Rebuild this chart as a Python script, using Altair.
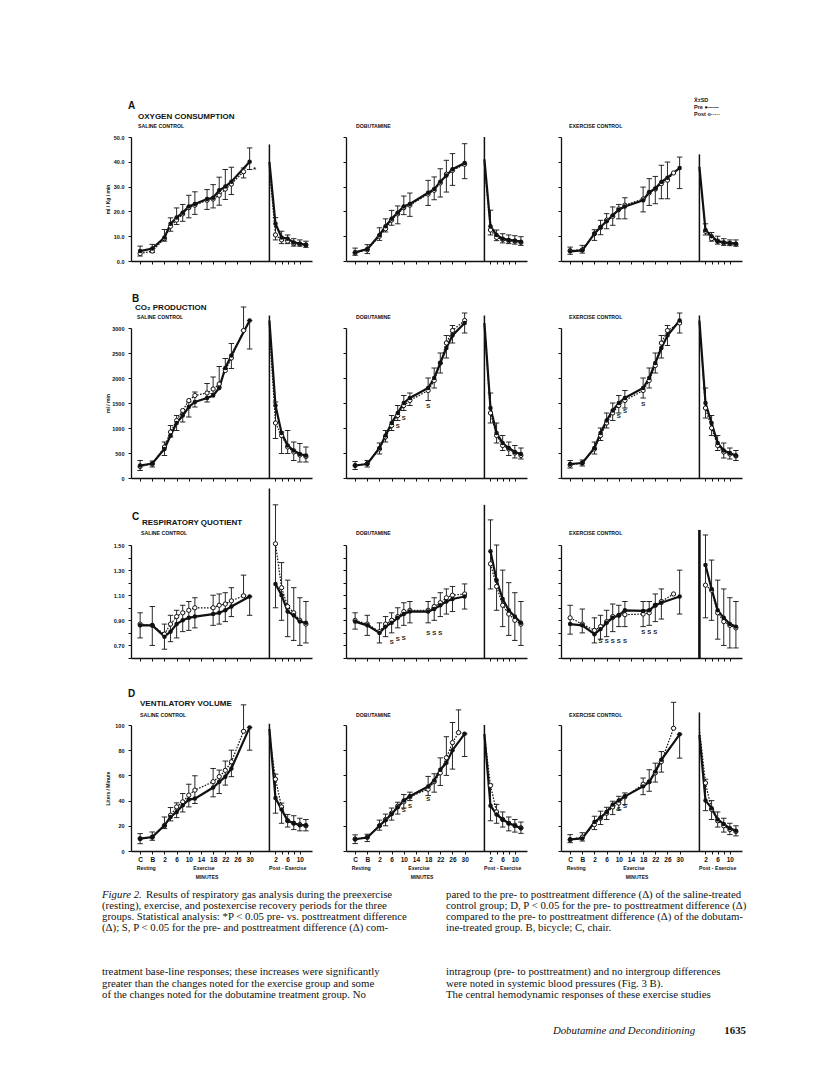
import altair as alt
import pandas as pd

N = None
FONT = "Liberation Sans"
SERIF = "Liberation Serif"

# ---- time grid -------------------------------------------------------------
EX_T = ["C", "B", "2", "4", "6", "8", "10", "12", "16", "18", "20", "22", "24", "26", "28", "30"]
EX_U = [0, 4, 8, 10, 12, 14, 16, 18, 22, 24, 26, 28, 30, 32, 34, 36]
REC_P = [0, 2, 4, 6, 8, 10, 12]
REC_START = 42.5
XTICKS = [0, 4, 8, 12, 16, 20, 24, 28, 32, 36, 44.5, 46.5, 48.5, 50.5, 52.5]
XLABEL_EXPR = ("datum.value==0?'C':datum.value==4?'B':datum.value<=36?format(datum.value-6,'d'):"
               "datum.value==44.5?'2':datum.value==48.5?'6':datum.value==52.5?'10':''")

# ---- A: oxygen consumption (ml/kg/min) -------------------------------------
A1_PRE = [4.0, 5.0, 9.5, 15.0, 17.5, 19.5, 22.0, 23.0, 25.0, 25.5, 28.5, 30.0, 32.0, N, N, 40.0]
A1_POST = [3.0, 4.0, 9.0, 14.0, 16.5, 19.0, 21.5, 22.5, 24.5, 25.0, 26.5, 29.0, 31.0, N, 36.0, N]
A1_LO = [2.0, 3.4, 8.0, 12.0, 14.7, 16.0, 17.4, 18.8, 20.8, 21.4, 22.5, 24.8, 26.8, N, 33.5, 36.9]
A1_HI = [6.0, 6.7, 12.7, 17.4, 21.4, 22.8, 26.5, 27.9, 28.8, 30.8, 33.8, 36.9, 37.8, N, 37.5, 45.6]
A1_RPRE = [40.0, 15.0, 9.5, 9.0, 7.5, 7.0, 6.5]
A1_RPOST = [37.0, 10.5, 8.5, 8.0, 7.0, 6.8, 6.5]
A1_RLO = [N, 8.5, 7.0, 7.0, 6.0, 6.0, 5.5]
A1_RHI = [N, 17.5, 12.0, 10.5, 9.0, 8.5, 8.0]

A2_PRE = [3.5, 4.8, 10.5, 14.0, 17.0, 19.5, 22.0, 23.0, N, 27.5, 29.0, 32.0, 34.5, 37.0, N, 39.5]
A2_POST = [3.3, 4.5, 10.0, 13.0, 16.5, 19.0, 21.5, 22.5, N, 27.0, 28.5, 31.5, 35.0, 36.5, N, 39.0]
A2_LO = [2.3, 3.0, 8.3, 11.7, 14.4, 15.0, 18.7, 18.0, N, 22.4, 24.7, 25.8, 27.8, 30.5, N, 33.2]
A2_HI = [5.2, 6.6, 13.4, 17.0, 20.4, 22.2, 26.2, 27.4, N, 32.5, 33.9, 37.2, 40.6, 43.3, N, 47.3]
A2_RPRE = [41.0, 14.0, 10.5, 9.0, 8.5, 8.2, 7.8]
A2_RPOST = [39.0, 12.5, 9.5, 8.7, 8.2, 8.0, 7.5]
A2_RLO = [N, 10.5, 8.2, 7.3, 7.0, 6.8, 6.3]
A2_RHI = [N, 20.5, 12.5, 11.0, 10.5, 10.2, 9.8]

A3_PRE = [3.9, 4.3, 11.0, 13.7, 16.0, 18.4, 20.7, 22.0, N, 24.5, 27.8, 29.2, 31.9, 33.6, N, 37.5]
A3_POST = [4.2, 4.5, 11.0, 13.5, 16.5, 18.0, 21.0, 22.5, N, 25.0, 27.5, 29.0, 31.2, 32.6, 35.5, N]
A3_LO = [2.7, 3.2, 8.3, 10.6, 13.0, 14.4, 17.0, 17.0, N, 19.8, 22.4, 23.1, 25.1, 25.1, N, 29.2]
A3_HI = [5.6, 6.3, 12.6, 16.4, 19.1, 21.8, 22.8, 25.5, N, 29.8, 33.2, 34.1, 38.6, 39.9, N, 41.9]
A3_RPRE = [38.0, 12.5, 10.0, 8.0, 7.5, 7.3, 7.0]
A3_RPOST = [37.0, 12.0, 9.0, 8.0, 7.3, 7.0, 6.8]
A3_RLO = [N, 10.5, 8.0, 6.8, 6.3, 6.2, 6.0]
A3_RHI = [N, 15.0, 11.5, 10.0, 9.0, 8.5, 8.5]

# ---- B: CO2 production (ml/min) ---------------------------------------------
B1_PRE = [250, 290, 580, 850, 1100, 1250, 1420, 1520, 1600, 1650, 1800, 2200, 2450, N, N, 3150]
B1_POST = [230, 280, 620, 920, 1150, 1350, 1550, 1650, 1700, 1780, 1880, 2150, 2400, N, 2950, N]
B1_LO = [150, 220, 450, 820, 950, 1120, 1220, 1420, 1520, 1690, 1820, 2190, 2190, N, 2950, 2580]
B1_HI = [350, 340, 720, 1050, 1250, 1300, 1520, 1720, 1890, 2020, 2230, 2390, 2690, N, 3420, 3150]
B1_RPRE = [3150, 1450, 900, 650, 550, 480, 450]
B1_RPOST = [2950, 1100, 850, 620, 520, 460, 430]
B1_RLO = [N, 790, 490, 490, 350, 320, 320]
B1_RHI = [N, 1520, 920, 950, 720, 690, 620]

B2_PRE = [250, 280, 600, 850, 1100, 1300, 1500, 1600, N, 1800, 2000, 2300, 2600, 2850, N, 3100]
B2_POST = [250, 290, 580, 820, 1050, 1250, 1450, 1550, N, 1750, 1950, 2300, 2700, 2950, N, 3150]
B2_LO = [170, 220, 480, 720, 950, 1150, 1350, 1450, N, 1550, 1800, 2100, 2400, 2700, N, 2900]
B2_HI = [330, 350, 700, 950, 1250, 1450, 1650, 1700, N, 2000, 2200, 2500, 2850, 3050, N, 3300]
B2_RPRE = [3100, 1400, 900, 700, 600, 520, 480]
B2_RPOST = [3050, 1300, 850, 650, 580, 500, 450]
B2_RLO = [N, 1100, 700, 550, 450, 400, 380]
B2_RHI = [N, 1700, 1100, 850, 720, 650, 600]

B3_PRE = [280, 300, 600, 900, 1150, 1350, 1500, 1600, N, 1800, 2000, 2300, 2600, 2850, N, 3150]
B3_POST = [260, 300, 580, 850, 1100, 1300, 1450, 1550, N, 1750, 1950, 2250, 2700, 2950, N, 3100]
B3_LO = [200, 240, 480, 750, 1000, 1150, 1300, 1400, N, 1600, 1800, 2100, 2400, 2650, N, 2900]
B3_HI = [350, 360, 720, 1000, 1300, 1500, 1650, 1750, N, 2000, 2200, 2500, 2850, 3050, N, 3300]
B3_RPRE = [3150, 1500, 1100, 700, 550, 500, 450]
B3_RPOST = [3100, 1400, 1000, 650, 520, 480, 440]
B3_RLO = [N, 1200, 850, 550, 400, 380, 350]
B3_RHI = [N, 1800, 1250, 850, 700, 600, 550]

# ---- C: respiratory quotient ------------------------------------------------
C1_PRE = [0.86, 0.86, 0.77, 0.81, 0.87, 0.90, 0.92, 0.93, N, 0.95, 0.96, 0.98, 1.01, N, N, 1.09]
C1_POST = [0.87, 0.86, 0.79, 0.87, 0.93, 0.96, 0.98, 1.00, N, 1.00, 1.02, 1.03, 1.055, N, 1.095, N]
C1_LO = [0.76, 0.70, 0.67, 0.73, 0.76, 0.81, 0.82, 0.84, N, 0.86, 0.87, 0.89, 0.93, N, 1.10, 0.94]
C1_HI = [0.96, 1.01, 0.87, 0.94, 0.98, 1.02, 1.05, 1.08, N, 1.10, 1.11, 1.12, 1.16, N, 1.26, 1.09]
C1_RPRE = [N, 1.19, 1.10, 0.97, 0.94, 0.89, 0.88]
C1_RPOST = [N, 1.51, 1.16, 1.01, 0.96, 0.90, 0.87]
C1_RLO = [N, 1.00, 0.90, 0.77, 0.74, 0.70, 0.72]
C1_RHI = [N, 1.82, 1.36, 1.22, 1.16, 1.08, 1.05]

C2_PRE = [0.89, 0.86, 0.80, 0.85, 0.88, 0.92, 0.95, 0.97, N, 0.97, 0.99, 1.02, 1.05, 1.07, N, 1.09]
C2_POST = [0.90, 0.87, 0.81, 0.87, 0.90, 0.93, 0.97, 0.98, N, 0.98, 1.01, 1.04, 1.08, 1.10, N, 1.11]
C2_LO = [0.83, 0.78, 0.72, 0.77, 0.80, 0.84, 0.86, 0.88, N, 0.88, 0.90, 0.93, 0.95, 0.97, N, 0.99]
C2_HI = [0.96, 0.94, 0.88, 0.93, 0.96, 1.00, 1.04, 1.05, N, 1.05, 1.08, 1.12, 1.15, 1.17, N, 1.19]
C2_RPRE = [N, 1.45, 1.22, 1.07, 0.98, 0.93, 0.88]
C2_RPOST = [N, 1.35, 1.17, 1.02, 0.95, 0.90, 0.87]
C2_RLO = [N, 1.15, 0.98, 0.85, 0.78, 0.74, 0.70]
C2_RHI = [N, 1.70, 1.50, 1.30, 1.20, 1.12, 1.05]

C3_PRE = [0.87, 0.86, 0.79, 0.83, 0.88, 0.92, 0.94, 0.98, N, 0.975, 0.98, 1.02, 1.04, N, N, 1.09]
C3_POST = [0.92, 0.87, 0.82, 0.85, 0.89, 0.93, 0.94, 0.945, N, 0.95, 0.96, 1.02, 1.05, N, 1.11, N]
C3_LO = [0.79, 0.80, 0.72, 0.75, 0.77, 0.81, 0.85, 0.85, N, 0.85, 0.86, 0.89, 0.91, N, N, 0.95]
C3_HI = [1.02, 0.99, 0.92, 0.94, 0.98, 1.03, 1.02, 1.05, N, 1.05, 1.05, 1.11, 1.15, N, N, 1.30]
C3_RPRE = [N, 1.34, 1.15, 0.98, 0.92, 0.87, 0.85]
C3_RPOST = [N, 1.18, 1.14, 0.96, 0.89, 0.86, 0.84]
C3_RLO = [N, 0.92, 0.90, 0.75, 0.70, 0.68, 0.68]
C3_RHI = [N, 1.58, 1.38, 1.22, 1.15, 1.08, 1.05]

# ---- D: ventilatory volume (liters/minute) ----------------------------------
D1_PRE = [9.8, 11.1, 20.4, 27.0, 31.0, 36.3, 40.8, 41.6, N, 50.4, 54.9, 58.9, 65.5, N, N, 98.1]
D1_POST = [9.8, 11.0, 20.0, 28.4, 35.0, 39.0, 44.3, 48.3, N, 55.0, 59.0, 64.0, 70.8, N, 95.0, N]
D1_LO = [5.8, 8.5, 17.8, 23.9, 26.5, 31.0, 35.0, 37.7, N, 43.0, 45.6, 52.3, 59.0, N, 95.0, 80.0]
D1_HI = [13.8, 15.1, 27.0, 34.5, 38.2, 45.6, 53.0, 59.7, N, 65.5, 64.2, 71.4, 80.0, N, 116.0, 98.1]
D1_RPRE = [97.0, 42.0, 33.0, 24.0, 22.0, 20.5, 20.5]
D1_RPOST = [93.0, 57.0, 35.0, 24.0, 22.0, 21.0, 20.0]
D1_RLO = [N, 30.0, 22.0, 19.0, 17.0, 16.0, 16.0]
D1_RHI = [N, 61.0, 38.0, 29.0, 28.0, 26.0, 25.0]

D2_PRE = [9.3, 10.7, 20.0, 24.5, 29.3, 34.7, 40.0, 43.5, N, 51.2, 56.0, 64.5, 70.0, 80.0, N, 93.0]
D2_POST = [9.5, 11.0, 20.0, 25.0, 30.0, 35.5, 39.0, 43.0, N, 49.0, 55.0, 62.0, 74.0, 86.0, 94.0, N]
D2_LO = [5.9, 7.5, 16.5, 20.0, 24.5, 29.3, 34.1, 40.0, N, 44.0, 46.7, 52.0, 60.0, 65.0, 94.0, 75.0]
D2_HI = [12.8, 13.3, 24.5, 29.3, 34.1, 38.7, 44.8, 46.7, N, 59.2, 61.3, 73.9, 90.7, 102.0, 112.0, 93.0]
D2_RPRE = [93.0, 36.0, 29.0, 25.0, 22.0, 20.0, 18.0]
D2_RPOST = [92.0, 52.0, 31.0, 25.0, 22.0, 20.5, 18.5]
D2_RLO = [N, 24.0, 22.0, 19.0, 16.0, 15.0, 14.0]
D2_RHI = [N, 53.0, 37.0, 31.0, 27.0, 25.0, 23.0]

D3_PRE = [9.2, 10.0, 23.0, 26.6, 31.0, 36.8, 40.0, 43.4, N, 51.3, 54.7, 63.0, 72.4, N, N, 92.6]
D3_POST = [9.0, 11.0, 21.0, 26.0, 30.0, 35.0, 38.0, 43.0, N, 53.0, 55.0, 62.0, 71.0, N, 97.4, N]
D3_LO = [6.6, 7.9, 17.0, 21.0, 25.0, 28.9, 32.6, 36.8, N, 44.7, 47.4, 54.7, 62.6, N, 97.4, 73.7]
D3_HI = [13.0, 14.5, 27.6, 31.6, 34.7, 39.5, 43.4, 46.1, N, 57.9, 64.5, 69.7, 78.9, N, 118.0, 92.6]
D3_RPRE = [92.0, 40.0, 34.0, 25.0, 21.5, 18.0, 16.0]
D3_RPOST = [97.0, 54.0, 33.0, 24.0, 20.0, 17.0, 15.5]
D3_RLO = [N, 32.0, 25.0, 19.0, 15.0, 13.0, 12.0]
D3_RHI = [N, 57.0, 40.0, 31.0, 26.0, 22.0, 20.0]

# separator heights (top of the post-exercise line) per panel
SEP_TOP = {"A1": 47, "A2": 50, "A3": 43, "B1": 3250, "B2": 3250, "B3": 3250,
           "C1": 1.95, "C2": 1.82, "C3": 1.62, "D1": 101, "D2": 100, "D3": 110}

# significance marks ("S") and asterisk: (minute-position u, value)
S_MARKS = {
    "B2": [(14, 1050), (16, 1200), (24, 1450)],
    "B3": [(16, 1250), (18, 1350), (24, 1480)],
    "C2": [(12, 0.73), (14, 0.75), (16, 0.76), (24, 0.80), (26, 0.80), (28, 0.80)],
    "C3": [(10, 0.735), (12, 0.735), (14, 0.735), (16, 0.735), (18, 0.735), (24, 0.81), (26, 0.81), (28, 0.81)],
    "D2": [(16, 32.5), (18, 36.0), (24, 41.0)],
    "D3": [(16, 33.0), (18, 36.0)],
}
STAR = {"A1": [(37.6, 36.8)]}

ROWS = {
    "A": dict(ymin=0, ymax=50, h=124, ticks=[0, 10, 20, 30, 40, 50],
              lexpr="format(datum.value, '.1f')", ytitle="ml / Kg / min",
              letter="A", name="OXYGEN CONSUMPTION",
              pos=dict(letter=(-3, -31), name=(7, -20), sub=(7, -11))),
    "B": dict(ymin=0, ymax=3000, h=150, ticks=[0, 500, 1000, 1500, 2000, 2500, 3000],
              lexpr="format(datum.value, 'd')", ytitle="ml / min",
              letter="B", name="CO\u2082 PRODUCTION",
              pos=dict(letter=(1, -29), name=(4, -20), sub=(6, -11))),
    "C": dict(ymin=0.6, ymax=1.5, h=113, ticks=[round(0.6 + 0.1 * i, 1) for i in range(10)],
              lexpr="(round(datum.value*10) % 2 == 1) ? format(datum.value, '.2f') : ''", ytitle="",
              letter="C", name="RESPIRATORY QUOTIENT",
              pos=dict(letter=(1, -28), name=(11, -22), sub=(10, -12))),
    "D": dict(ymin=0, ymax=100, h=126, ticks=[0, 20, 40, 60, 80, 100],
              lexpr="format(datum.value, 'd')", ytitle="Liters / Minute",
              letter="D", name="VENTILATORY VOLUME",
              pos=dict(letter=(-3, -31), name=(9, -21), sub=(9, -10))),
}
GROUPS = ["SALINE CONTROL", "DOBUTAMINE", "EXERCISE CONTROL"]
W = 181


def series_rows(ex_vals, rec_vals, name):
    out = []
    for u, v in zip(EX_U, ex_vals):
        if v is not None:
            out.append({"u": u, "v": v, "s": name, "seg": "ex", "mk": 1})
    for p, v in zip(REC_P, rec_vals):
        if v is not None:
            out.append({"u": REC_START + p, "v": v, "s": name, "seg": "rec", "mk": 0 if p == 0 else 1})
    return out


def err_rows(lo, hi, rlo, rhi):
    out = []
    for u, a, b in zip(EX_U, lo, hi):
        if a is not None and b is not None:
            out.append({"u": u, "lo": a, "hi": b})
    for p, a, b in zip(REC_P, rlo, rhi):
        if a is not None and b is not None:
            out.append({"u": REC_START + p, "lo": a, "hi": b})
    return out


def txt(t, x, y, size, weight="bold", align="left", font=FONT, style="normal"):
    return alt.Chart(pd.DataFrame({"t": [t]})).mark_text(
        align=align, baseline="middle", font=font, fontSize=size, fontWeight=weight,
        fontStyle=style, color="#111").encode(x=alt.value(x), y=alt.value(y), text="t:N")


def panel(row, col, data):
    pre, post, lo, hi, rpre, rpost, rlo, rhi = data
    cfg = ROWS[row]
    key = f"{row}{col + 1}"
    h = cfg["h"]
    xs = alt.Scale(domain=[-3, 56.5], nice=False, zero=False)
    ys = alt.Scale(domain=[cfg["ymin"], cfg["ymax"]], nice=False, zero=False)
    if row == "D":
        xax = alt.Axis(values=XTICKS, labelExpr=XLABEL_EXPR, tickSize=3, labelPadding=2,
                       labelFontSize=6.5, labelFlush=False, labelOverlap=False, grid=False, title=None)
    else:
        xax = alt.Axis(values=XTICKS, labels=False, tickSize=3, grid=False, title=None)
    ykw = dict(values=cfg["ticks"], tickSize=3, grid=False, labelFlush=False, labelOverlap=False)
    if col == 0:
        ykw.update(labelExpr=cfg["lexpr"], labelPadding=4, labelFontSize=5.5)
        if cfg["ytitle"]:
            ykw.update(title=cfg["ytitle"], titleX=-24, titleY=h / 2, titleAngle=270,
                       titleAlign="center", titleBaseline="middle", titleFontSize=5,
                       titleFontWeight="bold")
        else:
            ykw.update(title=None)
    else:
        ykw.update(labels=False, title=None)
    yax = alt.Axis(**ykw)

    def X(f):
        return alt.X(f, scale=xs, axis=xax)

    def Y(f):
        return alt.Y(f, scale=ys, axis=yax)

    line_df = pd.DataFrame(series_rows(pre, rpre, "Pre") + series_rows(post, rpost, "Post"))
    err_df = pd.DataFrame(err_rows(lo, hi, rlo, rhi))
    pre_df = line_df[line_df.s == "Pre"]
    post_df = line_df[line_df.s == "Post"]

    layers = []
    eb = alt.Chart(err_df)
    layers.append(eb.mark_rule(color="#111", strokeWidth=0.9).encode(x=X("u:Q"), y=Y("lo:Q"), y2="hi:Q"))
    caps = eb.transform_calculate(a="datum.u-0.9", b="datum.u+0.9")
    layers.append(caps.mark_rule(color="#111", strokeWidth=0.9).encode(x=X("a:Q"), x2="b:Q", y=Y("hi:Q")))
    layers.append(caps.mark_rule(color="#111", strokeWidth=0.9).encode(x=X("a:Q"), x2="b:Q", y=Y("lo:Q")))
    sep = pd.DataFrame({"u": [REC_START], "y0": [cfg["ymin"]], "y1": [SEP_TOP[key]]})
    layers.append(alt.Chart(sep).mark_rule(color="#111", strokeWidth=2.6 if key == "C3" else 1.5)
                  .encode(x=X("u:Q"), y=Y("y0:Q"), y2="y1:Q"))
    layers.append(alt.Chart(post_df).mark_line(color="#111", strokeWidth=1.2, strokeDash=[1.6, 1.4])
                  .encode(x=X("u:Q"), y=Y("v:Q"), detail="seg:N"))
    layers.append(alt.Chart(pre_df).mark_line(color="#111", strokeWidth=2.2)
                  .encode(x=X("u:Q"), y=Y("v:Q"), detail="seg:N"))
    layers.append(alt.Chart(post_df[post_df.mk == 1]).mark_point(
        shape="circle", filled=True, fill="white", stroke="#111", strokeWidth=1.0, size=18, opacity=1)
        .encode(x=X("u:Q"), y=Y("v:Q")))
    layers.append(alt.Chart(pre_df[pre_df.mk == 1]).mark_circle(color="#111", size=20, opacity=1)
                  .encode(x=X("u:Q"), y=Y("v:Q")))
    if key in S_MARKS:
        sdf = pd.DataFrame({"u": [p[0] for p in S_MARKS[key]], "v": [p[1] for p in S_MARKS[key]], "t": "S"})
        layers.append(alt.Chart(sdf).mark_text(font=FONT, fontSize=6, fontWeight="bold", color="#111")
                      .encode(x=X("u:Q"), y=Y("v:Q"), text="t:N"))
    if key in STAR:
        sdf = pd.DataFrame({"u": [p[0] for p in STAR[key]], "v": [p[1] for p in STAR[key]], "t": "*"})
        layers.append(alt.Chart(sdf).mark_text(font=FONT, fontSize=8, fontWeight="bold", color="#111")
                      .encode(x=X("u:Q"), y=Y("v:Q"), text="t:N"))

    # headings
    pos = cfg["pos"]
    if col == 0:
        layers.append(txt(cfg["letter"], pos["letter"][0], pos["letter"][1], 10))
        layers.append(txt(cfg["name"], pos["name"][0], pos["name"][1], 8))
        layers.append(txt(GROUPS[0], pos["sub"][0], pos["sub"][1], 5.2))
    else:
        layers.append(txt(GROUPS[col], 10 if col == 1 else 8, pos["sub"][1], 5.2))
    if key == "A3":
        layers.append(txt("X\u0304\u00b1SD", 133, -37, 5.5))
        layers.append(txt("Pre  \u25cf\u2014\u2014", 133, -30, 5.5))
        layers.append(txt("Post o\u00b7\u00b7\u00b7\u00b7\u00b7", 133, -23, 5.5))
    if row == "D":
        lab = pd.DataFrame({"u": [2, 21, 48.5], "t": ["Resting", "Exercise", "Post - Exercise"]})
        layers.append(alt.Chart(lab).mark_text(font=FONT, fontSize=5.2, fontWeight="bold", color="#111",
                                               baseline="middle")
                      .encode(x=X("u:Q"), y=alt.value(h + 17), text="t:N"))
        mn = pd.DataFrame({"u": [22], "t": ["MINUTES"]})
        layers.append(alt.Chart(mn).mark_text(font=FONT, fontSize=5, fontWeight="bold", color="#111",
                                              baseline="middle")
                      .encode(x=X("u:Q"), y=alt.value(h + 26), text="t:N"))
    return alt.layer(*layers).properties(width=W, height=h)


PANELS = {
    "A": [(A1_PRE, A1_POST, A1_LO, A1_HI, A1_RPRE, A1_RPOST, A1_RLO, A1_RHI),
          (A2_PRE, A2_POST, A2_LO, A2_HI, A2_RPRE, A2_RPOST, A2_RLO, A2_RHI),
          (A3_PRE, A3_POST, A3_LO, A3_HI, A3_RPRE, A3_RPOST, A3_RLO, A3_RHI)],
    "B": [(B1_PRE, B1_POST, B1_LO, B1_HI, B1_RPRE, B1_RPOST, B1_RLO, B1_RHI),
          (B2_PRE, B2_POST, B2_LO, B2_HI, B2_RPRE, B2_RPOST, B2_RLO, B2_RHI),
          (B3_PRE, B3_POST, B3_LO, B3_HI, B3_RPRE, B3_RPOST, B3_RLO, B3_RHI)],
    "C": [(C1_PRE, C1_POST, C1_LO, C1_HI, C1_RPRE, C1_RPOST, C1_RLO, C1_RHI),
          (C2_PRE, C2_POST, C2_LO, C2_HI, C2_RPRE, C2_RPOST, C2_RLO, C2_RHI),
          (C3_PRE, C3_POST, C3_LO, C3_HI, C3_RPRE, C3_RPOST, C3_RLO, C3_RHI)],
    "D": [(D1_PRE, D1_POST, D1_LO, D1_HI, D1_RPRE, D1_RPOST, D1_RLO, D1_RHI),
          (D2_PRE, D2_POST, D2_LO, D2_HI, D2_RPRE, D2_RPOST, D2_RLO, D2_RHI),
          (D3_PRE, D3_POST, D3_LO, D3_HI, D3_RPRE, D3_RPOST, D3_RLO, D3_RHI)],
}

cells = []
for r in ["A", "B", "C", "D"]:
    for c in range(3):
        cells.append(panel(r, c, PANELS[r][c]))

# ---- caption & body text -----------------------------------------------------
CAP_LEFT = [
    "Results of respiratory gas analysis during the preexercise",
    "(resting), exercise, and postexercise recovery periods for the three",
    "groups. Statistical analysis: *P < 0.05 pre- vs. posttreatment difference",
    "(\u0394); S, P < 0.05 for the pre- and posttreatment difference (\u0394) com-",
]
CAP_RIGHT = [
    "pared to the pre- to posttreatment difference (\u0394) of the saline-treated",
    "control group; D, P < 0.05 for the pre- to posttreatment difference (\u0394)",
    "compared to the pre- to posttreatment difference (\u0394) of the dobutam-",
    "ine-treated group. B, bicycle; C, chair.",
]
BODY_LEFT = [
    "treatment base-line responses; these increases were significantly",
    "greater than the changes noted for the exercise group and some",
    "of the changes noted for the dobutamine treatment group. No",
]
BODY_RIGHT = [
    "intragroup (pre- to posttreatment) and no intergroup differences",
    "were noted in systemic blood pressures (Fig. 3 B).",
    "\u2003The central hemodynamic responses of these exercise studies",
]
BODY_LINES = [7.0, 8.05, 9.05]
TXT_SIZE = 10.8

recs = []
for i, t in enumerate(CAP_LEFT):
    recs.append({"col": 0, "line": i, "t": t, "dx": 1 if i == 0 else 0})
for i, t in enumerate(CAP_RIGHT):
    recs.append({"col": 1, "line": i, "t": t, "dx": 0})
for ln, t in zip(BODY_LINES, BODY_LEFT):
    recs.append({"col": 0, "line": ln, "t": t, "dx": 0})
for ln, t in zip(BODY_LINES, BODY_RIGHT):
    recs.append({"col": 1, "line": ln, "t": t, "dx": 0})
cap_df = pd.DataFrame(recs)

cx = alt.Scale(domain=[0, 1], range=[-29, 315])
cy = alt.Scale(domain=[0, 14], range=[-23, 131])
CX = alt.X("col:Q", scale=cx, axis=None)
CY = alt.Y("line:Q", scale=cy, axis=None)
cap_plain = alt.Chart(cap_df).transform_filter("datum.dx == 0").mark_text(
    align="left", baseline="middle", font=SERIF, fontSize=TXT_SIZE, color="#111").encode(x=CX, y=CY, text="t:N")
cap_shift = alt.Chart(cap_df).transform_filter("datum.dx > 0").mark_text(
    align="left", baseline="middle", font=SERIF, fontSize=TXT_SIZE, color="#111", dx=44).encode(
    x=CX, y=CY, text="t:N")
fig_lab = alt.Chart(pd.DataFrame({"col": [0], "line": [0], "t": ["Figure 2."]})).mark_text(
    align="left", baseline="middle", font=SERIF, fontSize=TXT_SIZE, fontStyle="italic", color="#111").encode(
    x=CX, y=CY, text="t:N")
FOOT_TEXT = ["Dobutamine and Deconditioning", "1635"]
FOOT_COL = [1.724, 1.872]
foot_a = alt.Chart(pd.DataFrame({"col": [FOOT_COL[0]], "line": [12.36], "t": [FOOT_TEXT[0]]})).mark_text(
    align="right", baseline="middle", font=SERIF, fontSize=10.8, fontStyle="italic", color="#111").encode(
    x=CX, y=CY, text="t:N")
foot_b = alt.Chart(pd.DataFrame({"col": [FOOT_COL[1]], "line": [12.36], "t": [FOOT_TEXT[1]]})).mark_text(
    align="right", baseline="middle", font=SERIF, fontSize=10.8, fontWeight="bold", color="#111").encode(
    x=CX, y=CY, text="t:N")
caption = alt.layer(cap_plain, cap_shift, fig_lab, foot_a, foot_b).properties(width=W, height=10)
cells.append(caption)

chart = alt.concat(*cells, columns=3, spacing={"row": 67, "column": 34}, bounds="flush", align="each").properties(
    padding={"left": 94, "top": 90, "right": 5, "bottom": 5}, background="white"
).configure_view(stroke=None).configure_axis(
    domainColor="#111", tickColor="#111", labelColor="#111", titleColor="#111",
    labelFont=FONT, titleFont=FONT, labelFontWeight="bold", domainWidth=1.3, tickWidth=1.0, grid=False
)

chart.save("out.html", embed_options={"renderer": "svg", "actions": False})
